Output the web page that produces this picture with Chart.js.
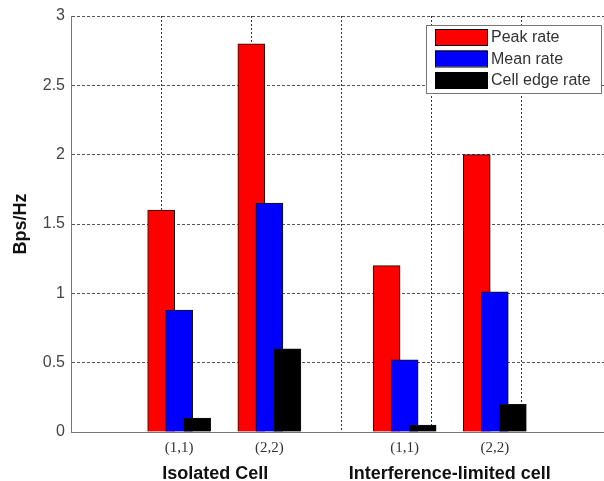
<!DOCTYPE html>
<html lang="en">
<head>
    <meta charset="UTF-8">
    <title>Bps/Hz</title>
    <script src="https://cdn.jsdelivr.net/npm/chart.js@4.4.0/dist/chart.umd.min.js"></script>
    <style>
        html, body { margin: 0; padding: 0; background: #fff; overflow: hidden; }
        canvas { display: block; }
    </style>
</head>
<body>
    <canvas id="rates" width="620" height="481"></canvas>

    <script>
        // data
        const categories = ['(1,1)', '(2,2)', '(1,1)', '(2,2)'];
        const groups = ['Isolated Cell', 'Interference-limited cell'];
        const catPos = [1.2, 2.2, 3.7, 4.7];      // x value of each category (axis units)
        const groupPos = [1.6, 4.2];
        const peakRate = [1.6, 2.8, 1.2, 2.0];
        const meanRate = [0.88, 1.65, 0.52, 1.01];
        const edgeRate = [0.1, 0.6, 0.05, 0.2];
        const yTicks = [0, 0.5, 1, 1.5, 2, 2.5, 3];

        const barShift = 0.2;   // red / blue / black side by side
        const toPoints = (vals, shift) => vals.map((v, i) => ({ x: catPos[i] + shift, y: v }));

        const sans = "'Liberation Sans', Arial, sans-serif";

        // legend drawn inside the axes, like the matlab one
        const insideLegend = {
            id: 'insideLegend',
            afterDraw(chart) {
                const ctx = chart.ctx;
                const area = chart.chartArea;
                const w = 175, h = 68;
                const x = area.right - 11 - w;
                const y = area.top + 9;
                ctx.save();
                ctx.fillStyle = '#fff';
                ctx.fillRect(x, y, w, h);
                ctx.strokeStyle = '#777';
                ctx.lineWidth = 1;
                ctx.strokeRect(x + 0.5, y + 0.5, w, h);
                ctx.font = '16px ' + sans;
                ctx.textBaseline = 'middle';
                chart.data.datasets.forEach((ds, i) => {
                    const ry = y + 4 + i * 21.5;
                    ctx.fillStyle = ds.backgroundColor;
                    ctx.fillRect(x + 9, ry, 52, 16);
                    ctx.strokeStyle = '#000';
                    ctx.strokeRect(x + 9.5, ry + 0.5, 52, 16);
                    ctx.fillStyle = '#333';
                    ctx.fillText(ds.label, x + 65, ry + 9);
                });
                ctx.restore();
            }
        };

        const hidden = { display: false };

        const ctx = document.getElementById('rates');
        const chart = new Chart(ctx, {
            type: 'bar',
            data: {
                datasets: [{
                    label: 'Peak rate',
                    data: toPoints(peakRate, -barShift),
                    backgroundColor: '#ff0000',
                    order: 3
                }, {
                    label: 'Mean rate',
                    data: toPoints(meanRate, 0),
                    backgroundColor: '#0000ff',
                    order: 2
                }, {
                    label: 'Cell edge rate',
                    data: toPoints(edgeRate, barShift),
                    backgroundColor: '#000000',
                    order: 1
                }]
            },
            options: {
                responsive: false,
                animation: false,
                devicePixelRatio: 1,
                layout: { padding: { top: 16, left: 0, right: 8, bottom: 0 } },
                datasets: {
                    bar: {
                        grouped: false,
                        barThickness: 27,
                        borderColor: '#111',
                        borderWidth: 1
                    }
                },
                plugins: {
                    legend: hidden,
                    tooltip: { enabled: false }
                },
                scales: {
                    x: {
                        type: 'linear',
                        min: 0,
                        max: 6,
                        offset: false,
                        weight: 0,
                        ticks: { display: false, stepSize: 1 },
                        grid: {
                            offset: false,
                            drawTicks: false,
                            color: '#333'
                        },
                        // in v4 border.dash styles the grid lines
                        border: { color: '#777', width: 1, dash: [2, 2] },
                        afterFit: s => { s.height = 0; }
                    },
                    xCat: {
                        type: 'linear',
                        position: 'bottom',
                        min: 0,
                        max: 6,
                        offset: false,
                        weight: 1,
                        grid: { display: false, drawTicks: false },
                        border: { display: false },
                        afterBuildTicks: s => { s.ticks = catPos.map(v => ({ value: v })); },
                        ticks: {
                            autoSkip: false,
                            maxRotation: 0,
                            padding: 7,
                            color: '#333',
                            font: { family: "'Liberation Serif', 'Times New Roman', serif", size: 15 },
                            callback: (v, i) => categories[i]
                        },
                        afterFit: s => { s.height = 28; }
                    },
                    xGroup: {
                        type: 'linear',
                        position: 'bottom',
                        min: 0,
                        max: 6,
                        offset: false,
                        weight: 2,
                        grid: { display: false, drawTicks: false },
                        border: { display: false },
                        afterBuildTicks: s => { s.ticks = groupPos.map(v => ({ value: v })); },
                        ticks: {
                            autoSkip: false,
                            maxRotation: 0,
                            padding: 3,
                            color: '#111',
                            font: { family: sans, size: 18, weight: 'bold' },
                            callback: (v, i) => groups[i]
                        },
                        afterFit: s => { s.height = 21; }
                    },
                    y: {
                        min: 0,
                        max: 3,
                        afterBuildTicks: s => { s.ticks = yTicks.map(v => ({ value: v })); },
                        ticks: {
                            padding: 6,
                            color: '#444',
                            font: { family: sans, size: 16 },
                            callback: v => String(v)
                        },
                        grid: {
                            drawTicks: false,
                            color: '#555'
                        },
                        border: { color: '#777', width: 1, dash: [3, 2] },
                        title: {
                            display: true,
                            text: 'Bps/Hz',
                            color: '#111',
                            padding: { top: 10, bottom: 0 },
                            font: { family: sans, size: 18, weight: 'bold' }
                        },
                        afterFit: s => { s.width = 71; }
                    }
                }
            },
            plugins: [insideLegend]
        });
    </script>
</body>
</html>
